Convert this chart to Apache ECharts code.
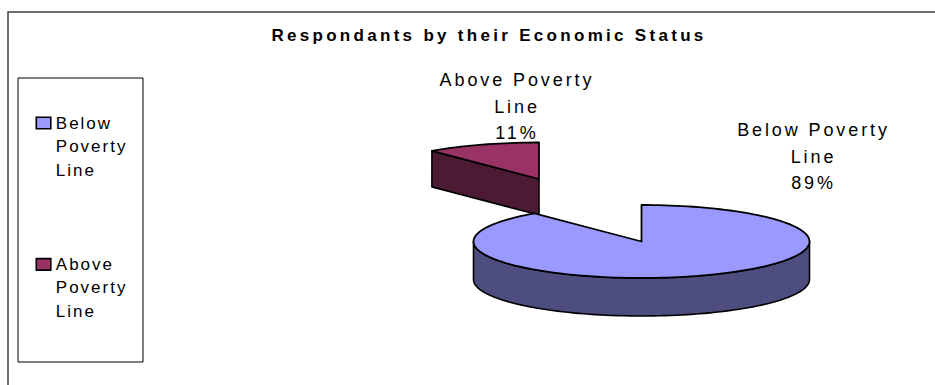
<!DOCTYPE html>
<html>
<head>
<meta charset="utf-8">
<style>
  html, body { margin: 0; padding: 0; background: #fff; }
  #chart { width: 935px; height: 385px; }
  /* Wide tracking, set per text size */
  #chart text[style*="18px"] { letter-spacing: 2.9px; }
  #chart text[style*="17px"] { letter-spacing: 2px; }
  #chart text[style*="bold"] { letter-spacing: 3.3px; }
</style>
<script src="https://cdn.jsdelivr.net/npm/echarts@6/dist/echarts.min.js"></script>
</head>
<body>
<div id="chart"></div>
<script>
const chartTitle = 'Respondants by their Economic Status';
const categories = ['Below Poverty Line', 'Above Poverty Line'];
const percentValues = [89, 11];
const topColors = ['#9999FF', '#993366'];
const sideColors = ['#4D4D80', '#4D1A33'];

// Tilted-disc geometry, in pixels
const centerX = 641.5, centerY = 241.5;
const radiusX = 168, radiusY = 36.5;
const depth = 38, explodedDepth = 36;
const explodeOffset = { 'Above Poverty Line': [-102.5, -62.5] };
const labelCenters = { 'Below Poverty Line': 813.5, 'Above Poverty Line': 517 };
const labelTops = { 'Below Poverty Line': 130, 'Above Poverty Line': 80 };
const labelLineHeight = 26.6;

const total = percentValues.reduce((a, b) => a + b, 0);

// Point on the rim; the angle runs clockwise from the top of the disc
function rim(cx, cy, deg) {
  const r = deg * Math.PI / 180;
  return [cx + radiusX * Math.sin(r), cy - radiusY * Math.cos(r)];
}

function arc(cx, cy, from, to) {
  const pts = [];
  const n = Math.max(2, Math.ceil(Math.abs(to - from) / 2));
  for (let i = 0; i <= n; i++) pts.push(rim(cx, cy, from + (to - from) * i / n));
  return pts;
}

function sliceItem(index) {
  const name = categories[index];
  const start = percentValues.slice(0, index).reduce((a, b) => a + b, 0) / total * 360;
  const end = start + percentValues[index] / total * 360;
  return function (params, api) {
    const off = explodeOffset[name] || [0, 0];
    const cx = centerX + off[0], cy = centerY + off[1];
    const h = explodeOffset[name] ? explodedDepth : depth;
    const edge = { stroke: '#000', lineWidth: 1.6, lineJoin: 'round' };
    const children = [];

    // Outer wall: the part of the rim that faces the viewer
    const from = Math.max(start, 90), to = Math.min(end, 270);
    if (to > from) {
      const front = arc(cx, cy, from, to);
      const back = front.map(p => [p[0], p[1] + h]).reverse();
      children.push({
        type: 'polygon',
        shape: { points: front.concat(back) },
        style: Object.assign({ fill: sideColors[index] }, edge)
      });
    }
    // Cut face of a pulled-out slice
    if (explodeOffset[name]) {
      const a = rim(cx, cy, start);
      children.push({
        type: 'polygon',
        shape: { points: [[cx, cy], a, [a[0], a[1] + h], [cx, cy + h]] },
        style: Object.assign({ fill: sideColors[index] }, edge)
      });
    }
    // Top face
    children.push({
      type: 'polygon',
      shape: { points: [[cx, cy]].concat(arc(cx, cy, start, end)) },
      style: Object.assign({ fill: topColors[index] }, edge, { lineWidth: 1.8 })
    });
    // Data label
    const lines = name.replace(' Line', '\nLine').split('\n').concat(Math.round(api.value(0)) + '%');
    lines.forEach((line, i) => {
      children.push({
        type: 'text',
        style: {
          text: line,
          x: labelCenters[name],
          y: labelTops[name] + i * labelLineHeight,
          fill: '#000',
          font: '18px "Liberation Sans", Arial, sans-serif',
          align: 'center',
          verticalAlign: 'middle'
        }
      });
    });
    return { type: 'group', children: children };
  };
}

const chart = echarts.init(document.getElementById('chart'), null, { renderer: 'svg' });
chart.setOption({
  animation: false,
  backgroundColor: '#fff',
  title: {
    text: chartTitle,
    left: 484,
    top: 21.5,
    textAlign: 'center',
    textStyle: { fontFamily: '"Liberation Sans", Arial, sans-serif', fontSize: 17, fontWeight: 'bold', color: '#000' }
  },
  legend: {
    orient: 'vertical',
    left: 35.5,
    top: 64,
    icon: 'rect',
    itemWidth: 14.5,
    itemHeight: 11.5,
    itemGap: 23.4,
    padding: 0,
    selectedMode: false,
    data: categories,
    itemStyle: { borderColor: '#000', borderWidth: 1.6 },
    // Two blank lines in front put the first word level with the swatch
    formatter: n => '\n\n' + n.split(' ').join('\n'),
    textStyle: {
      fontFamily: '"Liberation Sans", Arial, sans-serif',
      fontSize: 17,
      color: '#000',
      lineHeight: 23.6
    }
  },
  graphic: [{
    type: 'polyline',
    silent: true,
    shape: { points: [[8, 386], [8, 12], [936, 12]] },
    style: { stroke: '#404040', lineWidth: 1.5, fill: null }
  }, {
    type: 'rect',
    silent: true,
    shape: { x: 18, y: 78, width: 125, height: 284 },
    style: { stroke: '#000', lineWidth: 1, fill: null }
  }],
  series: [1, 0].map(i => ({
    type: 'custom',
    name: categories[i],
    coordinateSystem: 'none',
    silent: true,
    itemStyle: { color: topColors[i] },
    data: [[percentValues[i]]],
    renderItem: sliceItem(i)
  }))
});
</script>
</body>
</html>
